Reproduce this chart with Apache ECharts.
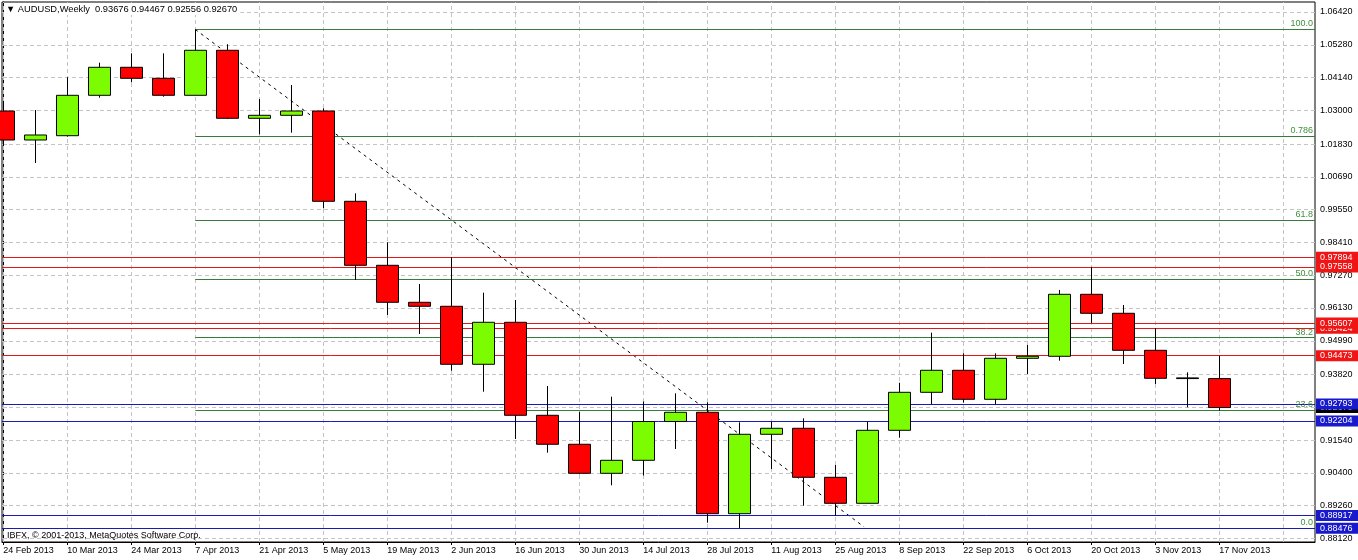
<!DOCTYPE html>
<html><head><meta charset="utf-8">
<script src="https://cdn.jsdelivr.net/npm/echarts@6/dist/echarts.min.js"></script>
<style>html,body{margin:0;padding:0;background:#fff}#c{width:1358px;height:560px}</style>
</head><body><div id="c"></div>
<script>
// ---------- data ----------
const weeks = ['24 Feb 2013','3 Mar 2013','10 Mar 2013','17 Mar 2013','24 Mar 2013','31 Mar 2013','7 Apr 2013','14 Apr 2013','21 Apr 2013','28 Apr 2013','5 May 2013','12 May 2013','19 May 2013','26 May 2013','2 Jun 2013','9 Jun 2013','16 Jun 2013','23 Jun 2013','30 Jun 2013','7 Jul 2013','14 Jul 2013','21 Jul 2013','28 Jul 2013','4 Aug 2013','11 Aug 2013','18 Aug 2013','25 Aug 2013','1 Sep 2013','8 Sep 2013','15 Sep 2013','22 Sep 2013','29 Sep 2013','6 Oct 2013','13 Oct 2013','20 Oct 2013','27 Oct 2013','3 Nov 2013','10 Nov 2013','17 Nov 2013'];
const opens  = [1.02978,1.01970,1.02120,1.03524,1.04498,1.04115,1.03524,1.05089,1.02725,1.02829,1.02978,0.99839,0.97614,0.96328,0.96189,0.94173,0.95633,0.92400,0.91392,0.90383,0.90835,0.92184,0.92504,0.88979,0.91739,0.91948,0.90244,0.89340,0.91878,0.93199,0.93964,0.92956,0.94381,0.94451,0.96606,0.95946,0.94659,0.93700,0.93676];
const closes = [1.01970,1.02144,1.03524,1.04498,1.04115,1.03524,1.05089,1.02725,1.02829,1.02978,0.99839,0.97614,0.96328,0.96189,0.94173,0.95633,0.92400,0.91392,0.90383,0.90835,0.92184,0.92504,0.88979,0.91739,0.91948,0.90244,0.89340,0.91878,0.93199,0.93964,0.92956,0.94381,0.94451,0.96606,0.95946,0.94659,0.93686,0.93676,0.92670];
const lows   = [1.01762,1.01171,1.02085,1.03441,1.03976,1.03476,1.03517,1.02700,1.02168,1.02224,0.99596,0.97103,0.95887,0.95226,0.93950,0.93220,0.91576,0.91100,0.90349,0.89966,0.90307,0.91228,0.88666,0.88476,0.90533,0.89257,0.88917,0.89330,0.91621,0.92793,0.92838,0.92782,0.93835,0.94298,0.95607,0.94183,0.93488,0.92678,0.92556];
const highs  = [1.03291,1.03013,1.04150,1.04658,1.04984,1.04984,1.05812,1.05297,1.03396,1.03882,1.03072,1.00117,0.98414,0.96964,0.97894,0.96662,0.96408,0.93418,0.92525,0.93046,0.92879,0.93164,0.92852,0.92156,0.92177,0.92295,0.90672,0.92177,0.93533,0.95271,0.94555,0.94555,0.94844,0.96756,0.97558,0.96234,0.95424,0.93894,0.94467];
const dojiIndex = 37;

const yTicks = [0.88120,0.89260,0.90400,0.91540,0.92680,0.93820,0.94990,0.96130,0.97270,0.98410,0.99550,1.00690,1.01830,1.03000,1.04140,1.05280,1.06420];
const xLabelIdx = [0,2,4,6,8,10,12,14,16,18,20,22,24,26,28,30,32,34,36,38];
const xGridIdx  = [0,2,4,6,8,10,12,14,16,18,20,22,24,26,28,30,32,34,36,38,40];

const fibHigh = 1.05812, fibLow = 0.88476;
const fibStartIdx = 6;
const fibTrendEnd = [26.9, 0.88520];
const fibRatios = [1, 0.786, 0.618, 0.5, 0.382, 0.236, 0];
const fibNames  = ['100.0','0.786','61.8','50.0','38.2','23.6','0.0'];

const redLevels  = [0.97894, 0.97558, 0.95424, 0.95607, 0.94473];
const bidPrice   = [0.92670];
const blueLevels = [0.92204, 0.88917, 0.88476, 0.92793];

const symbolName = 'AUDUSD,Weekly';
const lastOHLC = [0.93676, 0.94467, 0.92556, 0.92670];
const copyright = 'IBFX, \u00a9 2001-2013, MetaQuotes Software Corp.';

// ---------- axes extents ----------
const X_MIN = -0.04, X_MAX = 40.99;
const Y_MIN = 0.879947, Y_MAX = 1.067676;

const FONT = 'Liberation Sans, Arial, sans-serif';
const GREEN = '#7CFC00', RED = '#FF0000';
const RED_LINE = '#e41818', RED_TAG = '#f01414';
const BLUE_LINE = '#1a1ab4', BLUE_TAG = '#1818cc';
const FIB_LINE = '#3a7a3a', FIB_TEXT = '#3f8f3f';

const candleData = opens.map((o, i) => {
  const item = { value: [i, o, closes[i], lows[i], highs[i]] };
  if (i === dojiIndex) item.itemStyle = { color: '#000', color0: '#000', borderColor: '#000', borderColor0: '#000' };
  return item;
});

function levelSeries(name, prices, lineColor, tagColor, z) {
  return {
    name, type: 'line', data: [], z, silent: true, color: lineColor,
    lineStyle: { color: lineColor }, itemStyle: { color: lineColor },
    markLine: {
      silent: true, animation: false, precision: 6, symbol: ['none', 'none'], emphasis: { disabled: true },
      lineStyle: { color: lineColor, width: 1, type: 'solid' },
      label: { show: true, position: 'end', distance: 1, color: '#fff', backgroundColor: tagColor,
               fontSize: 9, fontFamily: FONT, lineHeight: 10, padding: [1, 8, 0, 4] },
      data: prices.map(p => ({ yAxis: p, label: { formatter: p.toFixed(5) } }))
    }
  };
}

const fibData = fibRatios.map((r, k) => {
  const lvl = fibLow + (fibHigh - fibLow) * r;
  return [
    { coord: [fibStartIdx, lvl],
      label: { show: true, position: 'insideEndTop', distance: [2, 1], formatter: fibNames[k], color: FIB_TEXT, fontSize: 9, fontFamily: FONT } },
    { coord: [X_MAX, lvl] }
  ];
});

const chart = echarts.init(document.getElementById('c'), null, { renderer: 'canvas' });
chart.setOption({
  animation: false,
  backgroundColor: '#fff',
  title: [
    { text: '\u25BC ' + symbolName + '  ' + lastOHLC.map(v => v.toFixed(5)).join(' '),
      left: 4, top: 4, padding: [1, 3, 1, 2], backgroundColor: '#fff',
      textStyle: { fontSize: 9.3, fontWeight: 'normal', color: '#000', fontFamily: FONT } },
    { text: copyright, left: 5, top: 530, padding: [1, 2],
      textStyle: { fontSize: 9, fontWeight: 'normal', color: '#000', fontFamily: FONT } }
  ],
  grid: { left: 2, right: 43, top: 2, bottom: 18, show: true, borderColor: '#000', borderWidth: 1,
          backgroundColor: '#fff', outerBoundsMode: 'none' },
  xAxis: {
    type: 'value', min: X_MIN, max: X_MAX,
    axisLine: { show: true, lineStyle: { color: '#000' } },
    axisTick: { show: true, customValues: xLabelIdx, length: 3, lineStyle: { color: '#000' } },
    axisLabel: { customValues: xLabelIdx, formatter: v => weeks[Math.round(v)], align: 'left', margin: 4,
                 color: '#000', fontSize: 9, fontFamily: FONT },
    splitLine: { show: false }
  },
  yAxis: {
    type: 'value', position: 'right', min: Y_MIN, max: Y_MAX, scale: true,
    axisLine: { show: true, lineStyle: { color: '#000' } },
    axisTick: { show: true, customValues: yTicks, length: 3, lineStyle: { color: '#000' } },
    axisLabel: { customValues: yTicks, formatter: v => v.toFixed(5), margin: 5,
                 color: '#000', fontSize: 9, fontFamily: FONT },
    splitLine: { show: false }
  },
  series: [
    { name: 'grid', type: 'line', data: [], z: 1, silent: true, color: '#c4c4c4',
      markLine: { silent: true, animation: false, precision: 6, symbol: ['none', 'none'], label: { show: false },
        lineStyle: { color: '#c4c4c4', type: [4, 3], width: 1 },
        emphasis: { disabled: true },
        data: [...xGridIdx.map(i => ({ xAxis: i })), ...yTicks.map(v => ({ yAxis: v }))] } },
    { name: 'fib', type: 'line', data: [], z: 2, silent: true, color: FIB_LINE,
      markLine: { silent: true, animation: false, precision: 6, symbol: ['none', 'none'], emphasis: { disabled: true },
        lineStyle: { color: FIB_LINE, width: 1, type: 'solid' },
        data: fibData } },
    { name: 'fibTrend', type: 'line', data: [], z: 2, silent: true, color: '#000',
      markLine: { silent: true, animation: false, precision: 6, symbol: ['none', 'none'], emphasis: { disabled: true },
        lineStyle: { color: '#000', width: 1, type: [3, 4] }, label: { show: false },
        data: [[{ coord: [fibStartIdx, fibHigh] }, { coord: fibTrendEnd }]] } },
    levelSeries('red levels', redLevels, RED_LINE, RED_TAG, 3),
    levelSeries('bid', bidPrice, 'rgba(0,0,0,0)', '#000', 3.5),
    levelSeries('blue levels', blueLevels, BLUE_LINE, BLUE_TAG, 4),
    { name: 'AUDUSD', type: 'candlestick', z: 5, barWidth: 23, data: candleData,
      itemStyle: { color: GREEN, color0: RED, borderColor: '#000', borderColor0: '#000', borderWidth: 1 } }
  ]
});
</script></body></html>
